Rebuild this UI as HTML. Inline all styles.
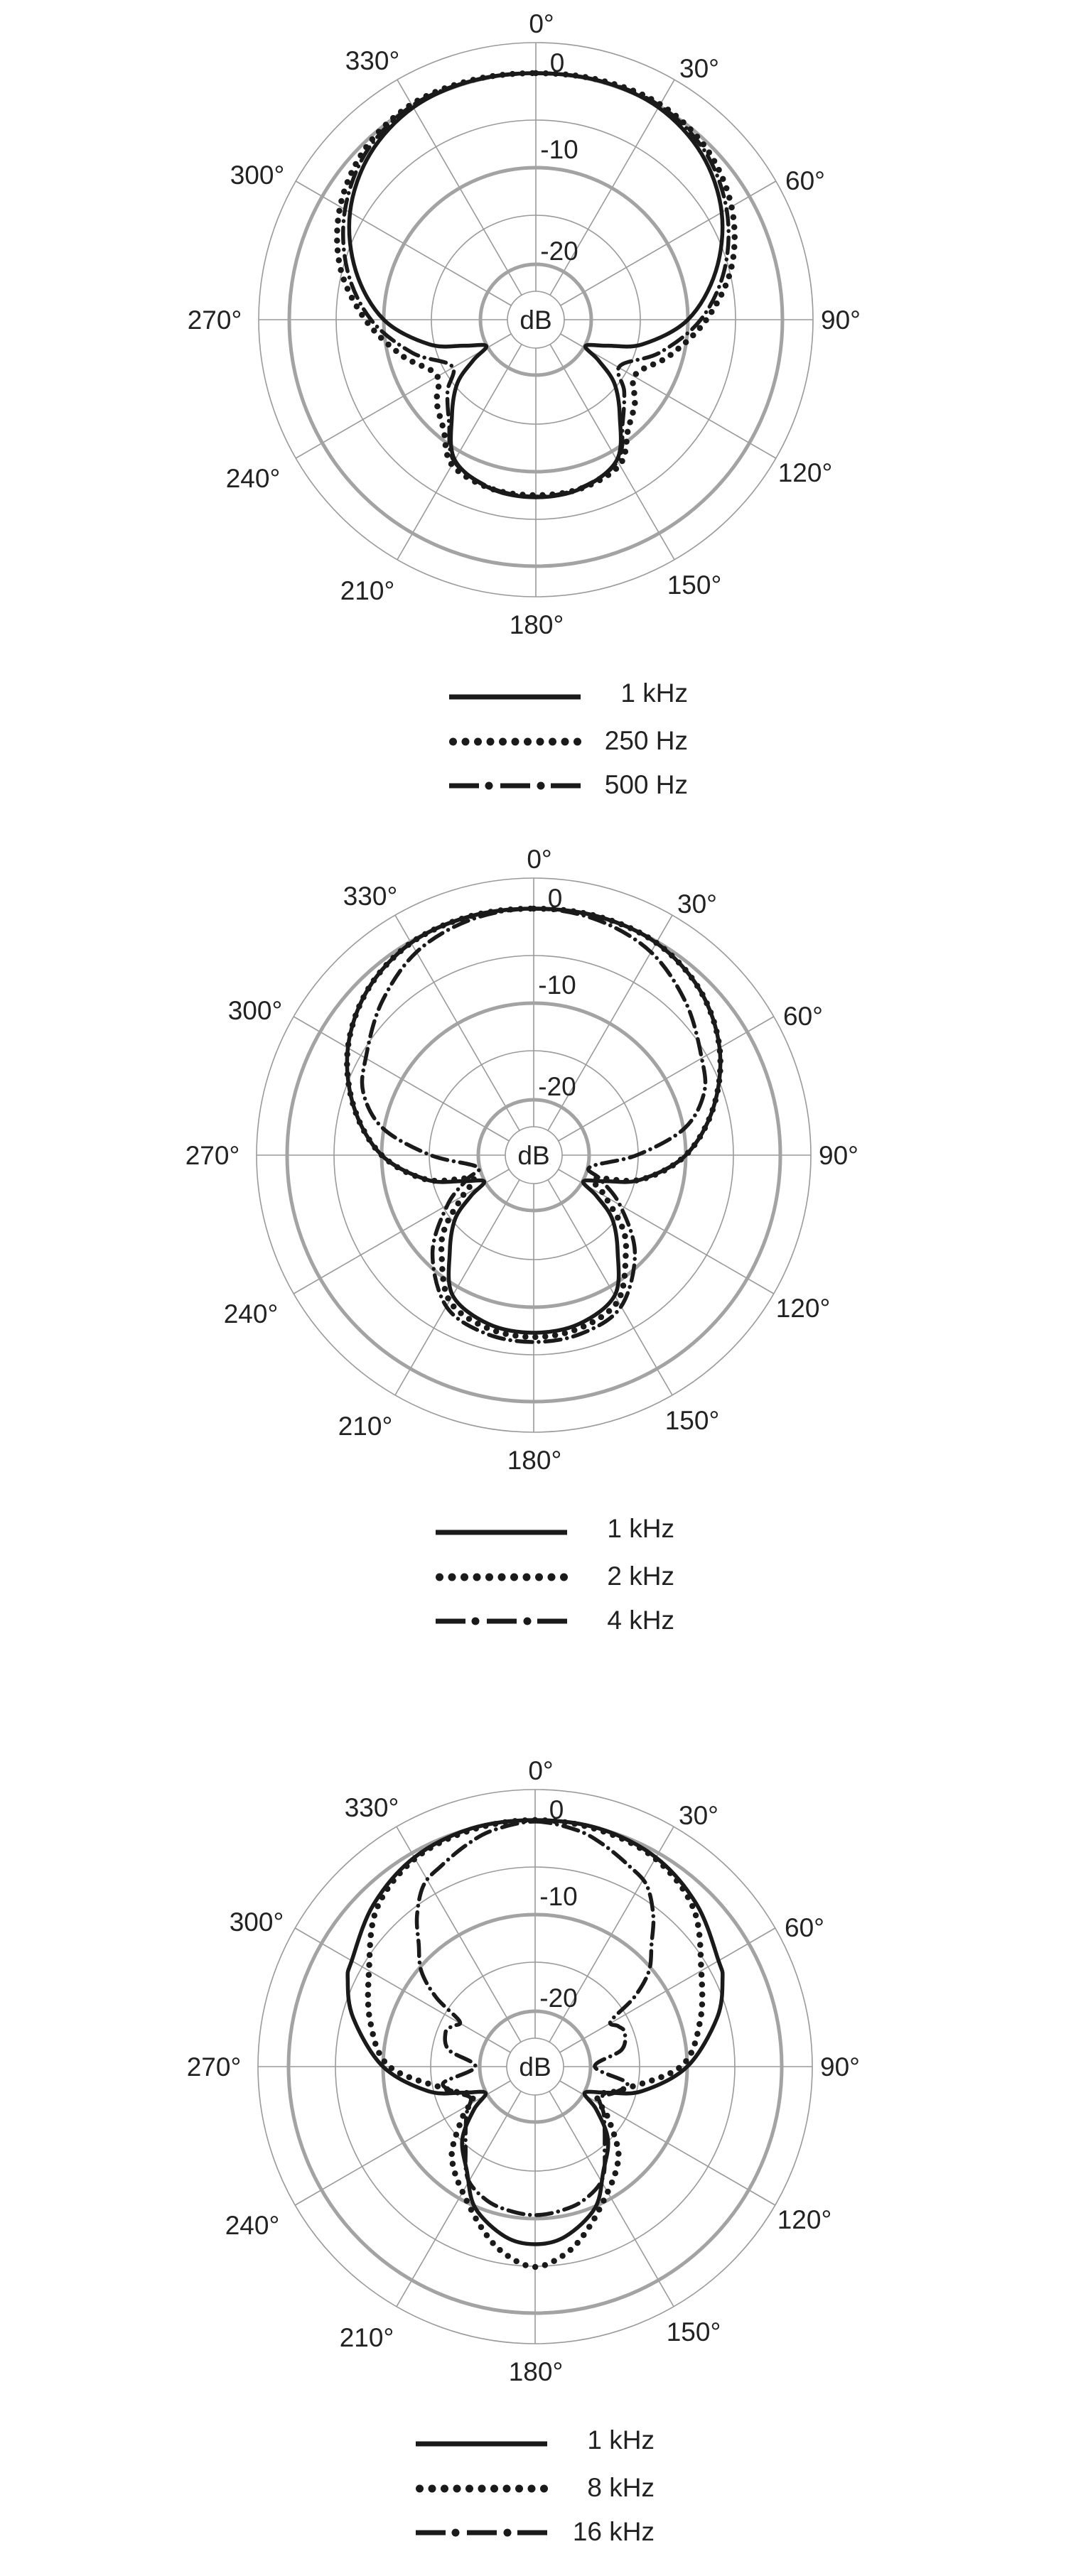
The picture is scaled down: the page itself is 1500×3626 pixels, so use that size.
<!DOCTYPE html>
<html><head><meta charset="utf-8"><style>
html,body{margin:0;padding:0;background:#fff}
svg{display:block}
text{font-family:"Liberation Sans",sans-serif;font-size:37px;fill:#222;text-anchor:middle}
</style></head><body>
<svg id="s" width="1500" height="3626" viewBox="0 0 1500 3626" xmlns="http://www.w3.org/2000/svg">
<rect width="1500" height="3626" fill="#fff"/>
<g id="c1" transform="translate(754,450)">
<g class="grid"></g><g class="curves"></g>
<text x="8" y="-404">0°</text><text x="-230" y="-352">330°</text><text x="230" y="-341">30°</text>
<text x="-392" y="-191">300°</text><text x="379" y="-183">60°</text>
<text x="-452" y="13">270°</text><text x="429" y="13">90°</text>
<text x="-398" y="236">240°</text><text x="379" y="228">120°</text>
<text x="-237" y="394">210°</text><text x="223" y="386">150°</text><text x="1" y="442">180°</text>
<text x="30" y="-349">0</text><text x="33" y="-227">-10</text><text x="33" y="-84">-20</text><text x="0" y="13">dB</text>
<g class="legend" transform="translate(-122,0)"></g>
<text x="214" y="538" style="text-anchor:end">1 kHz</text>
<text x="214" y="605" style="text-anchor:end">250 Hz</text>
<text x="214" y="667" style="text-anchor:end">500 Hz</text>
</g>
<g id="c2" transform="translate(751,1626)">
<g class="grid"></g><g class="curves"></g>
<text x="8" y="-404">0°</text><text x="-230" y="-352">330°</text><text x="230" y="-341">30°</text>
<text x="-392" y="-191">300°</text><text x="379" y="-183">60°</text>
<text x="-452" y="13">270°</text><text x="429" y="13">90°</text>
<text x="-398" y="236">240°</text><text x="379" y="228">120°</text>
<text x="-237" y="394">210°</text><text x="223" y="386">150°</text><text x="1" y="442">180°</text>
<text x="30" y="-349">0</text><text x="33" y="-227">-10</text><text x="33" y="-84">-20</text><text x="0" y="13">dB</text>
<g class="legend" transform="translate(-138,0)"></g>
<text x="198" y="538" style="text-anchor:end">1 kHz</text>
<text x="198" y="605" style="text-anchor:end">2 kHz</text>
<text x="198" y="667" style="text-anchor:end">4 kHz</text>
</g>
<g id="c3" transform="translate(753,2909)">
<g class="grid"></g><g class="curves"></g>
<text x="8" y="-404">0°</text><text x="-230" y="-352">330°</text><text x="230" y="-341">30°</text>
<text x="-392" y="-191">300°</text><text x="379" y="-183">60°</text>
<text x="-452" y="13">270°</text><text x="429" y="13">90°</text>
<text x="-398" y="236">240°</text><text x="379" y="228">120°</text>
<text x="-237" y="394">210°</text><text x="223" y="386">150°</text><text x="1" y="442">180°</text>
<text x="30" y="-349">0</text><text x="33" y="-227">-10</text><text x="33" y="-84">-20</text><text x="0" y="13">dB</text>
<g class="legend" transform="translate(-168,0)"></g>
<text x="168" y="538" style="text-anchor:end">1 kHz</text>
<text x="168" y="605" style="text-anchor:end">8 kHz</text>
<text x="168" y="667" style="text-anchor:end">16 kHz</text>
</g>
</svg>
<script>
var NS="http://www.w3.org/2000/svg";
function el(p,t,a){var e=document.createElementNS(NS,t);for(var k in a)e.setAttribute(k,a[k]);p.appendChild(e);return e;}
var solid1=[[0,347],[15,348],[30,345],[45,330],[60,302],[75,262],[90,214],[103,154],[110,107],[118,79],[123,105],[129,142],[139,180],[150,228],[165,246],[180,250]];
var curves={
c1:[[solid1,'s'],
 [[[0,347],[15,349],[30,350],[45,340],[60,318],[75,285],[90,240],[105,195],[119,160],[130,182],[140,202],[150,236],[165,246],[180,247]],'d'],
 [[[0,347],[15,348],[30,348],[45,336],[60,310],[75,275],[90,232],[105,180],[119,135],[129,160],[140,190],[150,230],[165,245],[180,249]],'dd']],
c2:[[solid1,'s'],
 [[[0,347],[15,348],[30,345],[45,330],[60,302],[75,262],[90,214],[103,154],[111,92],[119,112],[129,160],[137,190],[150,237],[165,252],[180,256]],'d'],
 [[[0,347],[15,343],[30,330],[45,303],[60,273],[70,255],[80,215],[90,145],[102,81],[110,100],[120,140],[134,198],[150,246],[165,260],[180,263]],'dd']],
c3:[[[[0,347],[15,347],[30,340],[45,322],[60,298],[65,291],[75,265],[90,214],[103,154],[110,107],[118,79],[125,105],[135,145],[147,176],[157,216],[170,243],[180,250]],'s'],
 [[[0,347],[15,345],[30,338],[45,315],[60,270],[75,240],[90,205],[105,126],[115,97],[125,125],[135,165],[142,185],[150,204],[161,237],[170,265],[180,282]],'d'],
 [[[0,345],[10,338],[17,327],[25,312],[31.5,300],[38,270],[43.5,238],[50,209],[55,170],[59,124],[64,130],[69,135],[79,124],[90,84],[100,131],[108,118],[116,101],[125,118],[139,149],[149,184],[160,200],[170,206],[180,209]],'dd']]
};
function xy(a,r){var t=a*Math.PI/180;return [r*Math.sin(t),-r*Math.cos(t)];}
function pathFrom(tab){
 var pts=[];
 for(var i=0;i<tab.length;i++)pts.push(xy(tab[i][0],tab[i][1]));
 for(var i=tab.length-2;i>0;i--)pts.push(xy(-tab[i][0],tab[i][1]));
 var n=pts.length,d="M"+pts[0][0].toFixed(1)+","+pts[0][1].toFixed(1);
 for(var i=0;i<n;i++){
  var p0=pts[(i-1+n)%n],p1=pts[i],p2=pts[(i+1)%n],p3=pts[(i+2)%n];
  var c1=[p1[0]+(p2[0]-p0[0])/6,p1[1]+(p2[1]-p0[1])/6],c2=[p2[0]-(p3[0]-p1[0])/6,p2[1]-(p3[1]-p1[1])/6];
  d+="C"+c1[0].toFixed(1)+","+c1[1].toFixed(1)+" "+c2[0].toFixed(1)+","+c2[1].toFixed(1)+" "+p2[0].toFixed(1)+","+p2[1].toFixed(1);
 }
 return d+"Z";
}
function style(t){
 if(t=='s')return {fill:'none',stroke:'#1a1a1a','stroke-width':5.5};
 if(t=='d')return {fill:'none',stroke:'#1a1a1a','stroke-width':8.5,'stroke-dasharray':'0 14','stroke-linecap':'round'};
 return {fill:'none',stroke:'#1a1a1a','stroke-width':5.5,'stroke-dasharray':'22 9 0.1 9','stroke-linecap':'round'};
}
['c1','c2','c3'].forEach(function(id){
 var g=document.getElementById(id);
 var grid=g.querySelector('.grid');
 for(var a=0;a<360;a+=30){var p=xy(a,40),q=xy(a,390);el(grid,'line',{x1:p[0],y1:p[1],x2:q[0],y2:q[1],stroke:'#9a9a9a','stroke-width':1.6});}
 [[40,1.6],[147,1.6],[281,1.6],[390,1.6]].forEach(function(c){el(grid,'circle',{cx:0,cy:0,r:c[0],fill:'none',stroke:'#9a9a9a','stroke-width':c[1]});});
 [78,214,347].forEach(function(r){el(grid,'circle',{cx:0,cy:0,r:r,fill:'none',stroke:'#a3a3a3','stroke-width':5});});
 var cg=g.querySelector('.curves');
 curves[id].forEach(function(c){var a=style(c[1]);a.d=pathFrom(c[0]);el(cg,'path',a);});
 var lg=g.querySelector('.legend');
 el(lg,'line',{x1:0,y1:531,x2:185,y2:531,stroke:'#1a1a1a','stroke-width':7});
 for(var i=0;i<11;i++)el(lg,'circle',{cx:5.5+i*17.5,cy:594,r:5.5,fill:'#1a1a1a'});
 [[0,42],[72,114],[143,185]].forEach(function(s){el(lg,'line',{x1:s[0],y1:656,x2:s[1],y2:656,stroke:'#1a1a1a','stroke-width':7});});
 [56,129].forEach(function(x){el(lg,'circle',{cx:x,cy:656,r:5.5,fill:'#1a1a1a'});});
});
</script>
</body></html>
